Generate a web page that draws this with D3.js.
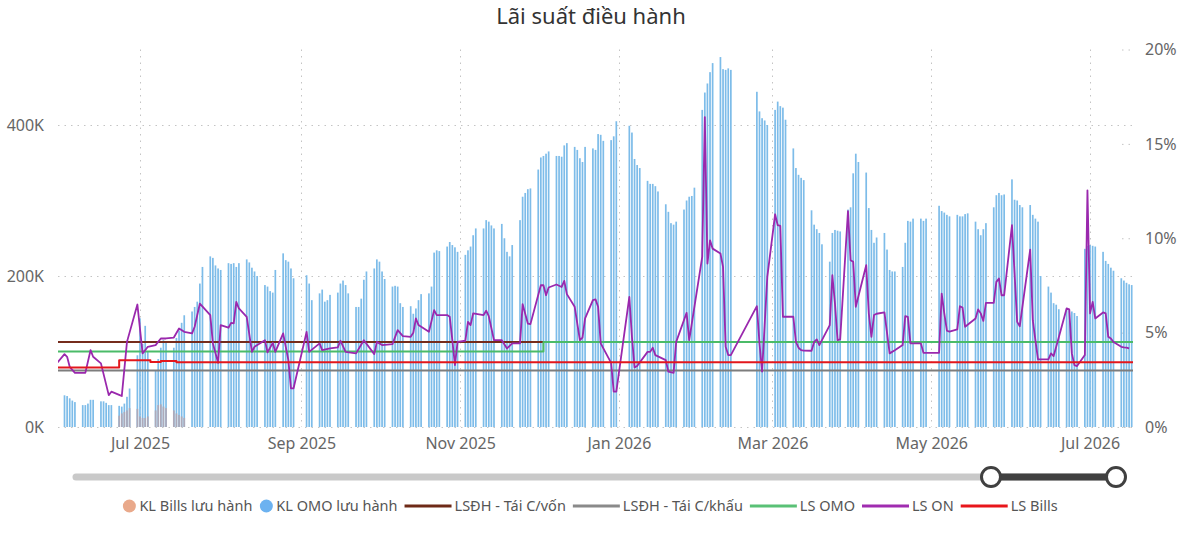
<!DOCTYPE html>
<html><head><meta charset="utf-8">
<script src="https://cdn.jsdelivr.net/npm/d3@7"></script>
<style>
body{margin:0;background:#fff;}
svg{display:block;font-family:'Segoe UI','Noto Sans','Open Sans',sans-serif;}
</style>
</head><body>
<svg id="c" width="1200" height="534"></svg>
<script>
// ---------- DATA ----------
const title = "Lãi suất điều hành";
const legendNames = ["KL Bills lưu hành","KL OMO lưu hành","LSĐH - Tái C/vốn","LSĐH - Tái C/khấu","LS OMO","LS ON","LS Bills"];
const leftTicks = [0, 200, 400];          // K
const rightTicks = [0, 5, 10, 15, 20];    // %

// Outstanding OMO volume (K), by week (Mon..Fri), null = holiday
const weekStarts = ["2025-06-02","2025-06-09","2025-06-16","2025-06-23","2025-06-30","2025-07-07","2025-07-14","2025-07-21","2025-07-28",
"2025-08-04","2025-08-11","2025-08-18","2025-08-25","2025-09-01","2025-09-08","2025-09-15","2025-09-22","2025-09-29",
"2025-10-06","2025-10-13","2025-10-20","2025-10-27","2025-11-03","2025-11-10","2025-11-17","2025-11-24",
"2025-12-01","2025-12-08","2025-12-15","2025-12-22","2025-12-29","2026-01-05","2026-01-12","2026-01-19","2026-01-26",
"2026-02-02","2026-02-09","2026-02-16","2026-02-23","2026-03-02","2026-03-09","2026-03-16","2026-03-23","2026-03-30",
"2026-04-06","2026-04-13","2026-04-20","2026-04-27","2026-05-04","2026-05-11","2026-05-18","2026-05-25",
"2026-06-01","2026-06-08","2026-06-15","2026-06-22","2026-06-29","2026-07-06","2026-07-13"];
const omoValues = [
[42,41,38,35,33],[29,29,31,36,36],[34,34,32,29,29],[28,27,31,40,51],[95,144,110,134,100],[75,90,105,115,112],[105,118,128,138,148],[153,159,166,190,212],[226,224,214,210,208],
[217,216,217,212,217],[222,218,211,206,200],[188,186,180,178,208],[230,221,219,210,197],[null,null,201,190,168],[177,182,166,168,175],[178,190,194,188,177],[159,159,170,195,206],[210,222,219,206,196],
[186,187,186,164,159],[160,150,157,168,176],[177,186,231,234,233],[239,245,241,238,232],[228,234,239,254,263],[263,274,272,267,263],[269,250,232,226,241],[274,305,310,315,316],
[341,357,359,362,365],[359,359,358,373,376],[371,367,356,351,371],[369,367,388,387,379],[380,385,405,null,null],[399,390,355,347,343],[326,322,322,319,312],[295,285,270,268,272],[288,300,305,306,317],
[420,443,455,470,482],[490,474,473,475,473],[null,null,null,null,null],[444,418,409,406,400],[420,431,425,423,407],[369,343,334,330,327],[287,268,262,257,242],[219,257,261,260,259],[288,291,336,362,351],
[337,290,261,244,251],[257,235,208,206,206],[212,244,273,272,276],[276,273,276,null,null],[293,286,284,281,279],[281,279,279,282,283],[272,262,254,262,270],[291,307,310,307,308],
[328,301,300,294,291],[294,281,276,272,200],[186,178,164,162,156],[157,155,153,151,147],[236,240,241,240,239],[232,220,216,211,207],[197,194,191,189,188]
];

// Outstanding SBV bills volume (K)
const billsWeekStarts = ["2025-06-23","2025-06-30","2025-07-07","2025-07-14"];
const billsValues = [[15,18,20,22,25],[24,14,12,12,14],[22,29,30,27,25],[22,18,16,14,12]];

// Overnight interbank rate (%)
const onRate = [
["2025-05-30",3.37],["2025-06-02",3.86],["2025-06-03",3.72],["2025-06-04",3.19],["2025-06-06",2.87],["2025-06-10",2.87],["2025-06-12",4.07],["2025-06-13",3.72],["2025-06-16",3.37],["2025-06-19",1.69],["2025-06-20",1.87],["2025-06-23",1.70],["2025-06-24",1.64],["2025-06-26",4.51],["2025-06-30",6.49],
["2025-07-02",3.90],["2025-07-03",4.07],["2025-07-04",4.25],["2025-07-07",4.34],["2025-07-09",4.69],["2025-07-11",4.69],["2025-07-14",4.74],["2025-07-16",5.22],["2025-07-18",5.04],["2025-07-21",4.96],["2025-07-22",5.31],["2025-07-24",6.54],["2025-07-28",5.93],["2025-07-29",4.43],["2025-07-31",3.40],
["2025-08-01",5.40],["2025-08-04",5.26],["2025-08-05",5.52],["2025-08-06",5.49],["2025-08-07",6.63],["2025-08-08",6.28],["2025-08-11",5.84],["2025-08-13",3.98],["2025-08-14",4.25],["2025-08-18",4.60],["2025-08-19",3.95],["2025-08-21",4.46],["2025-08-22",3.98],["2025-08-25",4.96],["2025-08-27",3.54],["2025-08-28",2.05],["2025-08-29",2.05],
["2025-09-03",5.04],["2025-09-04",3.98],["2025-09-08",4.43],["2025-09-09",4.07],["2025-09-12",4.16],["2025-09-15",4.22],["2025-09-16",4.57],["2025-09-18",3.98],["2025-09-22",3.90],["2025-09-25",4.60],["2025-09-29",3.86],["2025-09-30",4.51],
["2025-10-02",4.34],["2025-10-06",4.39],["2025-10-08",5.13],["2025-10-10",4.81],["2025-10-13",4.78],["2025-10-14",4.99],["2025-10-15",5.75],["2025-10-16",5.40],["2025-10-20",5.04],["2025-10-22",6.19],["2025-10-23",5.93],["2025-10-27",5.93],["2025-10-28",5.84],["2025-10-29",4.60],["2025-10-30",3.28],["2025-10-31",4.51],
["2025-11-03",4.57],["2025-11-04",5.57],["2025-11-05",5.40],["2025-11-06",6.02],["2025-11-10",5.93],["2025-11-11",6.16],["2025-11-12",5.87],["2025-11-14",4.60],["2025-11-17",4.60],["2025-11-19",4.16],["2025-11-21",4.43],["2025-11-24",4.43],["2025-11-25",6.51],["2025-11-27",5.48],["2025-11-28",5.45],
["2025-12-02",7.51],["2025-12-03",7.51],["2025-12-04",6.98],["2025-12-05",7.39],["2025-12-08",7.55],["2025-12-10",7.42],["2025-12-11",7.74],["2025-12-12",7.04],["2025-12-15",6.37],["2025-12-17",4.60],["2025-12-18",4.74],["2025-12-19",5.75],["2025-12-22",6.72],["2025-12-23",6.76],["2025-12-24",6.37],["2025-12-25",4.43],["2025-12-29",3.40],["2025-12-30",1.87],["2025-12-31",1.87],
["2026-01-05",6.89],["2026-01-06",4.78],["2026-01-07",3.16],["2026-01-08",3.23],["2026-01-12",3.98],["2026-01-13",3.98],["2026-01-14",4.20],["2026-01-15",3.81],["2026-01-19",3.54],["2026-01-20",2.93],["2026-01-22",2.87],["2026-01-23",4.51],["2026-01-27",6.05],["2026-01-28",4.60],
["2026-02-02",9.01],["2026-02-03",16.42],["2026-02-04",8.66],["2026-02-05",9.89],["2026-02-06",9.45],["2026-02-09",9.19],["2026-02-10",8.48],["2026-02-11",4.25],["2026-02-12",3.81],["2026-02-13",3.81],["2026-02-23",6.40],["2026-02-24",4.43],["2026-02-25",2.93],["2026-02-27",7.95],
["2026-03-02",11.27],["2026-03-03",10.69],["2026-03-04",10.65],["2026-03-05",5.84],["2026-03-09",5.84],["2026-03-10",4.51],["2026-03-11",4.20],["2026-03-12",4.07],["2026-03-13",4.05],["2026-03-16",4.04],["2026-03-17",4.51],["2026-03-18",4.64],["2026-03-19",4.34],["2026-03-23",5.40],["2026-03-24",8.04],["2026-03-25",6.54],["2026-03-26",4.60],["2026-03-27",4.64],["2026-03-30",11.44],["2026-03-31",8.84],
["2026-04-01",8.75],["2026-04-02",6.37],["2026-04-06",8.57],["2026-04-07",6.02],["2026-04-08",4.78],["2026-04-09",5.93],["2026-04-10",6.00],["2026-04-13",6.07],["2026-04-15",3.90],["2026-04-17",4.07],["2026-04-20",4.34],["2026-04-21",5.87],["2026-04-22",5.84],["2026-04-23",4.43],["2026-04-24",4.43],["2026-04-27",4.43],["2026-04-28",3.93],["2026-04-29",3.93],
["2026-05-04",3.93],["2026-05-05",7.07],["2026-05-06",6.02],["2026-05-07",5.10],["2026-05-08",5.05],["2026-05-11",5.17],["2026-05-12",6.40],["2026-05-13",6.33],["2026-05-14",5.31],["2026-05-18",5.75],["2026-05-19",6.23],["2026-05-20",6.02],["2026-05-21",5.62],["2026-05-22",6.58],["2026-05-25",6.58],["2026-05-26",7.69],["2026-05-27",7.87],["2026-05-28",6.98],["2026-05-29",6.98],
["2026-06-01",10.69],["2026-06-03",5.57],["2026-06-04",5.34],["2026-06-08",9.40],["2026-06-09",5.66],["2026-06-10",4.60],["2026-06-11",3.58],["2026-06-12",3.58],["2026-06-15",3.58],["2026-06-16",3.90],["2026-06-17",3.76],["2026-06-18",4.25],["2026-06-22",6.28],["2026-06-23",6.23],["2026-06-24",3.90],["2026-06-25",3.28],["2026-06-26",3.23],["2026-06-29",3.81],["2026-06-30",12.54],
["2026-07-01",6.02],["2026-07-02",6.63],["2026-07-03",5.75],["2026-07-06",6.07],["2026-07-07",6.02],["2026-07-08",4.78],["2026-07-09",4.69],["2026-07-10",4.50],["2026-07-13",4.25],["2026-07-14",4.22],["2026-07-15",4.20],["2026-07-16",4.16]
];

// Policy rates (%), step values
const refiRate = [["2025-05-30",4.5],["2026-07-18",4.5]];
const discountRate = [["2025-05-30",3.0],["2026-07-18",3.0]];
const omoRate = [["2025-05-30",4.0],["2025-12-03",4.5],["2026-07-18",4.5]];
const billsRate = [["2025-05-30",3.15],["2025-06-23",3.54],["2025-07-05",3.44],["2025-07-09",3.50],["2025-07-15",3.43],["2026-07-18",3.43]];

// ---------- CHART ----------
const parse = d3.timeParse("%Y-%m-%d");
const svg = d3.select("#c");
const L = 58, R = 1133, T = 49.5, B = 427;
const x = d3.scaleTime().domain([new Date(2025,4,30,12), new Date(2026,6,17,12)]).range([L, R]);
const yL = d3.scaleLinear().domain([0, 500]).range([B, T]);
const yR = d3.scaleLinear().domain([0, 20]).range([B, T]);
const font = "'Segoe UI','Noto Sans','Open Sans',sans-serif";

svg.append("defs").append("clipPath").attr("id","clip")
  .append("rect").attr("x",L).attr("y",0).attr("width",R-L).attr("height",B+1);

// title
svg.append("text").attr("x",591).attr("y",24).attr("text-anchor","middle")
  .attr("font-size",22).attr("fill","#333").text(title);

// grid
const grid = svg.append("g").attr("stroke","#c4c4c4").attr("stroke-width",1).attr("stroke-dasharray","1.5,5");
leftTicks.forEach(t => grid.append("line").attr("x1",L).attr("x2",R).attr("y1",yL(t)+0.5).attr("y2",yL(t)+0.5));
rightTicks.forEach(t => grid.append("line").attr("x1",R-11).attr("x2",R).attr("y1",yR(t)+0.5).attr("y2",yR(t)+0.5));
const monthTicks = x.ticks(d3.timeMonth.every(2));
monthTicks.forEach(t => grid.append("line").attr("x1",Math.round(x(t))+0.5).attr("x2",Math.round(x(t))+0.5).attr("y1",T).attr("y2",B));

// axes labels
const axL = d3.axisLeft(yL).tickValues(leftTicks).tickFormat(d => d + "K").tickSize(0).tickPadding(0);
const gL = svg.append("g").attr("transform",`translate(${L-14},0)`).call(axL);
const axRt = d3.axisRight(yR).tickValues(rightTicks).tickFormat(d => d + "%").tickSize(0).tickPadding(0);
const gR = svg.append("g").attr("transform",`translate(${R+12},0)`).call(axRt);
const axB = d3.axisBottom(x).tickValues(monthTicks).tickFormat(d3.timeFormat("%b %Y")).tickSize(0).tickPadding(0);
const gB = svg.append("g").attr("transform",`translate(0,${B+7})`).call(axB);
[gL,gR,gB].forEach(g => {
  g.select(".domain").remove();
  g.selectAll("text").attr("font-size",16).attr("fill","#666").attr("font-family",font);
});
gB.selectAll("text").attr("dy","0.95em");

// bars
const plot = svg.append("g").attr("clip-path","url(#clip)");
const omoBars = [];
weekStarts.forEach((w,i) => { const d0 = parse(w); omoValues[i].forEach((v,k) => { if (v != null) omoBars.push({date:d3.timeDay.offset(d0,k), v}); }); });
const billBars = [];
billsWeekStarts.forEach((w,i) => { const d0 = parse(w); billsValues[i].forEach((v,k) => { if (v != null) billBars.push({date:d3.timeDay.offset(d0,k), v}); }); });
const bw = 1.7;
plot.selectAll("rect.omo").data(omoBars).join("rect").attr("class","omo")
  .attr("x", d => x(d.date) - bw/2).attr("width", bw)
  .attr("y", d => yL(d.v)).attr("height", d => B - yL(d.v)).attr("fill","#7dbce9");
plot.selectAll("rect.bill").data(billBars).join("rect").attr("class","bill")
  .attr("x", d => x(d.date) - bw/2).attr("width", bw)
  .attr("y", d => yL(d.v)).attr("height", d => B - yL(d.v)).attr("fill","#aea9b8");

// lines
const toPts = arr => arr.map(([d,v]) => ({date:parse(d), v}));
const stepLine = d3.line().x(d => x(d.date)).y(d => yR(d.v)).curve(d3.curveStepAfter);
const lin = d3.line().x(d => x(d.date)).y(d => yR(d.v));
const addLine = (data, gen, color, w) => plot.append("path").attr("d", gen(toPts(data)))
  .attr("fill","none").attr("stroke",color).attr("stroke-width",w).attr("stroke-linejoin","round");
addLine(refiRate, stepLine, "#752c1c", 2);
addLine(discountRate, stepLine, "#7d7d7d", 2);
addLine(omoRate, stepLine, "#4bbb68", 2);
addLine(onRate, lin, "#9a28ad", 1.8);
addLine(billsRate, stepLine, "#e2171c", 2);

// slider (data zoom)
const sy = 477;
svg.append("line").attr("x1",76).attr("x2",1113).attr("y1",sy).attr("y2",sy).attr("stroke","#c9c9c9").attr("stroke-width",7).attr("stroke-linecap","round");
svg.append("line").attr("x1",991).attr("x2",1116).attr("y1",sy).attr("y2",sy).attr("stroke","#404040").attr("stroke-width",7);
[991,1116].forEach(cx => svg.append("circle").attr("cx",cx).attr("cy",sy).attr("r",9.5).attr("fill","#fff").attr("stroke","#404040").attr("stroke-width",3));

// legend
const legendColors = ["#e9a98b","#6cb2f0","#6e2a17","#8a8a8a","#5ac176","#a02cb0","#e8161b"];
const legendKinds = ["dot","dot","line","line","line","line","line"];
const lg = svg.append("g");
let cx = 0;
const ly = 506;
legendNames.forEach((n,i) => {
  const g = lg.append("g").attr("transform",`translate(${cx},0)`);
  let w;
  if (legendKinds[i] === "dot") { g.append("circle").attr("cx",7).attr("cy",ly).attr("r",6.5).attr("fill",legendColors[i]); w = 14; }
  else { g.append("line").attr("x1",0).attr("x2",47).attr("y1",ly).attr("y2",ly).attr("stroke",legendColors[i]).attr("stroke-width",3); w = 47; }
  const t = g.append("text").attr("x", w + 3).attr("y", ly).attr("dy","0.35em").attr("font-size",14.5).attr("fill","#555").text(n);
  cx += w + 3 + t.node().getComputedTextLength() + 7;
});
const totalW = cx - 7;
lg.attr("transform",`translate(${590 - totalW/2},0)`);
</script>
</body></html>
